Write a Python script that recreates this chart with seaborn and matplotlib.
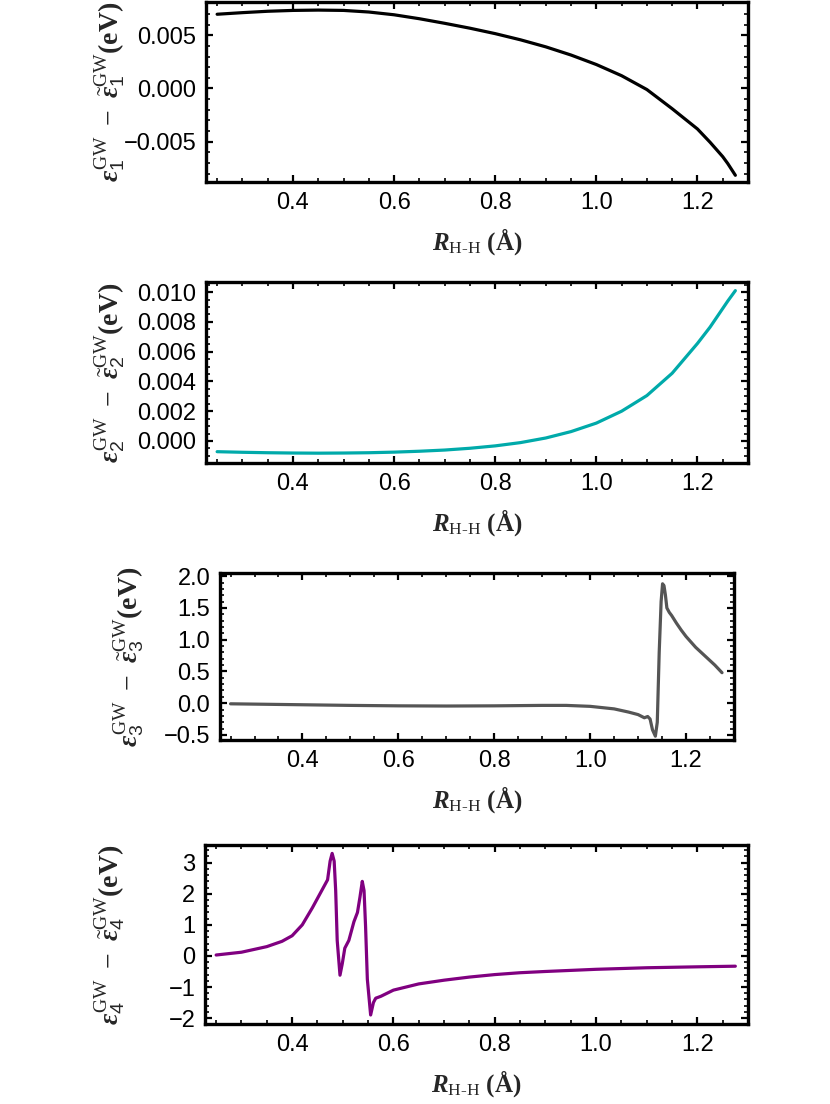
import matplotlib
matplotlib.use("Agg")
import matplotlib.pyplot as plt
import seaborn as sns
from matplotlib.ticker import MultipleLocator, FuncFormatter

# data (R in Angstrom, differences in eV)
r1 = [0.25, 0.30, 0.35, 0.40, 0.45, 0.50, 0.55, 0.60, 0.65, 0.70, 0.75, 0.80,
      0.85, 0.90, 0.95, 1.00, 1.05, 1.10, 1.15, 1.20, 1.225, 1.25, 1.26, 1.275]
d1 = [0.00697, 0.00712, 0.00725, 0.00733, 0.00736, 0.00733, 0.00718, 0.00692,
      0.00655, 0.00612, 0.00566, 0.00515, 0.00457, 0.00391, 0.00314, 0.00225,
      0.00120, -0.00010, -0.00190, -0.00380, -0.00505, -0.00640, -0.00705,
      -0.00815]

r2 = [0.25, 0.30, 0.35, 0.40, 0.45, 0.50, 0.55, 0.60, 0.65, 0.70, 0.75, 0.80,
      0.85, 0.90, 0.95, 1.00, 1.05, 1.10, 1.15, 1.20, 1.225, 1.25, 1.26, 1.275]
d2 = [-0.00072, -0.00076, -0.00079, -0.00081, -0.00082, -0.00081, -0.00079,
      -0.00075, -0.00069, -0.00061, -0.00049, -0.00033, -0.00011, 0.00020,
      0.00063, 0.00120, 0.00200, 0.00305, 0.00455, 0.00655, 0.00765, 0.00890,
      0.00940, 0.01010]

r3 = [0.25, 0.30, 0.40, 0.50, 0.60, 0.70, 0.80, 0.90, 0.95, 1.00, 1.05, 1.08,
      1.10, 1.113, 1.12, 1.125, 1.13, 1.136, 1.14, 1.144, 1.148, 1.151, 1.154,
      1.157, 1.16, 1.165, 1.17, 1.18, 1.19, 1.20, 1.22, 1.24, 1.26, 1.275]
d3 = [-0.01, -0.015, -0.025, -0.035, -0.042, -0.045, -0.042, -0.035, -0.035,
      -0.05, -0.09, -0.14, -0.18, -0.23, -0.21, -0.25, -0.42, -0.52, -0.30,
      0.80, 1.60, 1.88, 1.85, 1.70, 1.50, 1.43, 1.38, 1.26, 1.15, 1.05, 0.88,
      0.74, 0.60, 0.48]

r4 = [0.25, 0.30, 0.35, 0.38, 0.40, 0.42, 0.44, 0.455, 0.465, 0.47, 0.475,
      0.479, 0.483, 0.486, 0.489, 0.4945, 0.499, 0.504, 0.512, 0.522, 0.529,
      0.534, 0.5385, 0.542, 0.545, 0.5485, 0.555, 0.5605, 0.565, 0.575, 0.60,
      0.65, 0.70, 0.75, 0.80, 0.85, 0.90, 1.00, 1.10, 1.20, 1.275]
d4 = [0.03, 0.12, 0.30, 0.47, 0.65, 1.00, 1.55, 2.00, 2.30, 2.45, 3.05, 3.30,
      3.05, 2.10, 0.50, -0.62, -0.25, 0.25, 0.50, 1.10, 1.40, 1.90, 2.40, 2.10,
      0.95, -0.75, -1.90, -1.50, -1.36, -1.30, -1.10, -0.90, -0.78, -0.68,
      -0.60, -0.54, -0.50, -0.43, -0.38, -0.35, -0.33]

sns.set_style("ticks")
plt.rcParams["font.family"] = ["Liberation Sans", "DejaVu Sans"]
plt.rcParams["mathtext.fontset"] = "custom"
plt.rcParams["mathtext.rm"] = "Liberation Serif"
plt.rcParams["mathtext.it"] = "Liberation Serif:italic:bold"
plt.rcParams["mathtext.bf"] = "Liberation Serif:bold"
plt.rcParams["mathtext.sf"] = "Liberation Sans"

W, H = 830, 1104
fig = plt.figure(figsize=(W / 100, H / 100), dpi=100)

# frame boxes in pixels: left, top, right, bottom
boxes = [(206, 2, 748, 182), (206, 282, 748, 463), (220, 573, 734, 740), (205, 845, 748, 1024)]
ylabel_right = [128, 128, 147, 128]
series = [(r1, d1), (r2, d2), (r3, d3), (r4, d4)]
colors = ["#000000", "#00AAAA", "#555555", "#800080"]
ylims = [(-0.00878, 0.00812), (-0.00148, 0.01068), (-0.58, 2.05), (-2.19, 3.57)]
majors = [0.005, 0.002, 0.5, 1]
minors = [0.001, 0.0005, 0.1, 0.2]
fmts = ["{:.3f}", "{:.3f}", "{:.1f}", "{:.0f}"]


def make_fmt(f):
    return FuncFormatter(lambda v, p: f.format(v + 0.0).replace("-", "\u2212"))


for i in range(4):
    l, t, r, b = boxes[i]
    ax = fig.add_axes([l / W, 1 - b / H, (r - l) / W, (b - t) / H])
    x, y = series[i]
    sns.lineplot(x=x, y=y, ax=ax, color=colors[i], lw=2.3)
    ax.set_xlim(0.228, 1.30)
    ax.set_ylim(*ylims[i])
    ax.xaxis.set_major_locator(MultipleLocator(0.2))
    ax.xaxis.set_minor_locator(MultipleLocator(0.05))
    ax.xaxis.set_major_formatter(make_fmt("{:.1f}"))
    ax.yaxis.set_major_locator(MultipleLocator(majors[i]))
    ax.yaxis.set_minor_locator(MultipleLocator(minors[i]))
    ax.yaxis.set_major_formatter(make_fmt(fmts[i]))
    ax.tick_params(which="both", direction="in", top=True, right=True, colors="black")
    ax.tick_params(which="major", length=5, width=1.6, labelsize=17, pad=7)
    ax.tick_params(which="minor", length=3, width=1.2)
    for s in ax.spines.values():
        s.set_linewidth(2.4)
        s.set_color("black")
    n = i + 1
    ax.set_xlabel(r"$R_{\mathrm{H‐H}}\ \mathbf{(Å)}$", fontsize=18)
    ax.xaxis.set_label_coords(0.5, -44 / (b - t))
    ax.set_ylabel(r"$\epsilon_{\mathsf{%d}}^{\mathrm{GW}}\ -\ \tilde{\epsilon}_{\mathsf{%d}}^{\mathrm{GW}}\mathbf{(eV)}$" % (n, n),
                  fontsize=20)
    ax.yaxis.set_label_coords((ylabel_right[i] - l) / (r - l), 0.5)
    ax.grid(False)

fig.savefig("out.png", dpi=100)
